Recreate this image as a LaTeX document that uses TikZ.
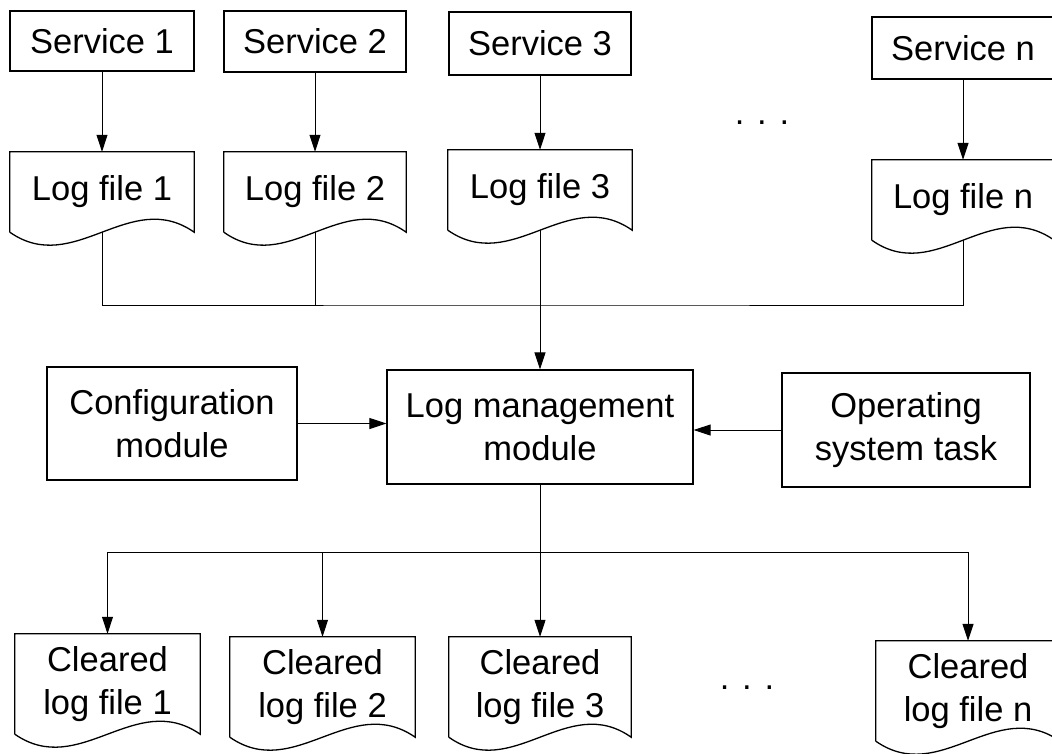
\documentclass[tikz,border=0pt]{standalone}
\usepackage{fontspec}
\setmainfont{Liberation Sans}
\usetikzlibrary{arrows.meta,calc}

\begin{document}
\begin{tikzpicture}[x=1pt,y=-1pt,
  box/.style={draw,line width=1.3pt,rectangle,align=center,inner sep=0pt},
  doc/.style={rectangle,align=center,inner sep=0pt},
  wire/.style={line width=1pt},
  flow/.style={wire,-{Triangle[length=17pt,width=11pt]}},
  font=\fontsize{34.5}{43}\selectfont]
\useasboundingbox (0,0) rectangle (1052,753);
% services
\node[box,minimum width=184pt,minimum height=60pt] (s_1) at (102,41) {Service 1};
\node[box,minimum width=182pt,minimum height=61pt] (s_2) at (315,41.5) {Service 2};
\node[box,minimum width=182pt,minimum height=63pt] (s_3) at (540,43.5) {Service 3};
\node[box,minimum width=182pt,minimum height=62pt] (s_n) at (963,48) {Service n};
\node[anchor=base] (dots_top) at (762,124) {. . .};
% log files
\node[doc,minimum width=184pt,minimum height=80pt] (log_1) at (102,192) {Log file 1};
\node[doc,minimum width=182pt,minimum height=80pt] (log_2) at (315,192) {Log file 2};
\node[doc,minimum width=184pt,minimum height=80pt] (log_3) at (540,190) {Log file 3};
\node[doc,minimum width=182pt,minimum height=80pt] (log_n) at (963,200) {Log file n};
% modules
\node[box,minimum width=306pt,minimum height=114pt] (lmm) at (540,427) {Log management\\module};
\node[box,minimum width=250pt,minimum height=113pt] (cfg) at (172,423.5) {Configuration\\module};
\node[box,minimum width=248pt,minimum height=114pt] (ost) at (906,430) {Operating\\system task};
% cleared log files
\node[doc,minimum width=185pt,minimum height=100pt] (clr_1) at (107.5,684) {Cleared\\log file 1};
\node[doc,minimum width=185pt,minimum height=100pt] (clr_2) at (322.5,687) {Cleared\\log file 2};
\node[doc,minimum width=182pt,minimum height=100pt] (clr_3) at (540,687) {Cleared\\log file 3};
\node[doc,minimum width=184pt,minimum height=100pt] (clr_n) at (968,691) {Cleared\\log file n};
\node[anchor=base] (dots_bot) at (747,689) {. . .};
% document outlines
\foreach \d in {log_1,log_2,log_3,log_n,clr_1,clr_2,clr_3,clr_n}
  \draw[line width=1.3pt]
    (\d.south west) -- (\d.north west) -- (\d.north east) -- (\d.south east)
    .. controls ($(\d.south east)!0.35!(\d.south west)+(0,-45)$)
    and ($(\d.south west)!0.35!(\d.south east)+(0,45)$) .. (\d.south west);
% connectors
\coordinate (bus_in) at (540,305);
\coordinate (bus_out) at (540,552);
\foreach \i in {1,2,3,n}
  \draw[flow] (s_\i.south) -- (log_\i.north);
\draw[wire] (log_1.south) |- (bus_in) -| (log_n.south);
\draw[wire] (log_2.south) -- (log_2.south |- bus_in);
\draw[flow] (log_3.south) -- (lmm.north);
\draw[flow] (cfg.east) -- (cfg.east -| lmm.west);
\draw[flow] (ost.west) -- (ost.west -| lmm.east);
\draw[flow] (lmm.south) -- (clr_3.north);
\draw[flow] (bus_out) -| (clr_1.north);
\draw[flow] (bus_out) -| (clr_n.north);
\draw[flow] (clr_2.north |- bus_out) -- (clr_2.north);
\end{tikzpicture}
\end{document}
